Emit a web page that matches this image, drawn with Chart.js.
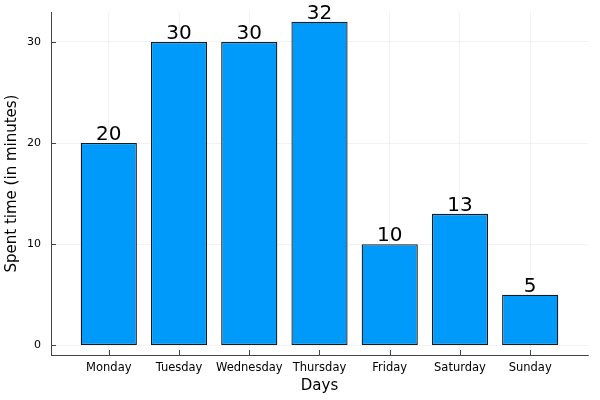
<!DOCTYPE html>
<html>
<head>
<meta charset="utf-8">
<style>
  body { margin: 0; background: #fff; }
</style>
<script src="https://cdn.jsdelivr.net/npm/chart.js@4"></script>
</head>
<body>
<canvas id="myChart" width="600" height="400"></canvas>

<script>
const days = ['Monday', 'Tuesday', 'Wednesday', 'Thursday', 'Friday', 'Saturday', 'Sunday'];
const minutes = [20, 30, 30, 32, 10, 13, 5];
const yTicks = [0, 10, 20, 30];

const FONT = "'DejaVu Sans', sans-serif";

// bar values written above each bar
const barLabels = {
  id: 'barLabels',
  afterDatasetsDraw(chart) {
    const ctx = chart.ctx;
    const meta = chart.getDatasetMeta(0);
    ctx.save();
    ctx.font = '20px ' + FONT;
    ctx.fillStyle = '#000';
    ctx.textAlign = 'center';
    ctx.textBaseline = 'alphabetic';
    meta.data.forEach((bar, i) => {
      ctx.fillText(String(minutes[i]), bar.x, bar.y - 3);
    });
    ctx.restore();
  }
};

// short tick marks pointing into the plot, like Plots.jl
const innerTicks = {
  id: 'innerTicks',
  beforeDatasetsDraw(chart) {
    const ctx = chart.ctx;
    const area = chart.chartArea;
    const x = chart.scales.x, y = chart.scales.y;
    ctx.save();
    ctx.strokeStyle = '#444';
    ctx.lineWidth = 1;
    ctx.beginPath();
    days.forEach((d, i) => {
      const px = Math.round(x.getPixelForValue(i)) + 0.5;
      ctx.moveTo(px, area.bottom);
      ctx.lineTo(px, area.bottom - 5);
    });
    yTicks.forEach(v => {
      const py = Math.round(y.getPixelForValue(v)) + 0.5;
      ctx.moveTo(area.left, py);
      ctx.lineTo(area.left + 5, py);
    });
    ctx.stroke();
    ctx.restore();
  }
};

const data = {
  datasets: [{
    data: minutes.map((v, i) => ({ x: i, y: v })),
    backgroundColor: '#009AFA',
    borderColor: '#1a1a1a',
    borderWidth: 1.3,
    borderSkipped: false,
    barPercentage: 0.8,
    categoryPercentage: 1.0
  }]
};

const config = {
  type: 'bar',
  data: data,
  options: {
    responsive: false,
    animation: false,
    devicePixelRatio: 1,
    layout: { padding: { left: 0, top: 12, right: 12, bottom: 0 } },
    plugins: {
      legend: { display: false },
      tooltip: { enabled: false }
    },
    scales: {
      x: {
        type: 'linear',
        offset: false,
        min: -0.823,
        max: 6.823,
        afterBuildTicks(scale) {
          scale.ticks = days.map((d, i) => ({ value: i }));
        },
        afterFit(scale) {
          scale.height = 45;
          scale.paddingLeft = 0;
          scale.paddingRight = 0;
        },
        ticks: {
          autoSkip: false,
          maxRotation: 0,
          padding: 6,
          color: '#000',
          font: { family: FONT, size: 11.5 },
          callback: (v) => days[v]
        },
        grid: {
          offset: false,
          drawTicks: false,
          color: 'rgba(0,0,0,0.1)',
          lineWidth: 0.5
        },
        border: { color: '#444', width: 1 },
        title: {
          display: true,
          text: 'Days',
          color: '#000',
          font: { family: FONT, size: 15 },
          padding: { top: 0, bottom: 5 }
        }
      },
      y: {
        min: -0.96,
        max: 32.96,
        afterBuildTicks(scale) {
          scale.ticks = yTicks.map(v => ({ value: v }));
        },
        afterFit(scale) {
          scale.width = 51;
          scale.paddingTop = 0;
          scale.paddingBottom = 0;
        },
        ticks: {
          padding: 10,
          color: '#000',
          font: { family: FONT, size: 11 }
        },
        grid: {
          drawTicks: false,
          color: 'rgba(0,0,0,0.1)',
          lineWidth: 0.5
        },
        border: { color: '#444', width: 1 },
        title: {
          display: true,
          text: 'Spent time (in minutes)',
          color: '#000',
          font: { family: FONT, size: 15 },
          padding: { top: 3, bottom: 0 }
        }
      }
    }
  },
  plugins: [barLabels, innerTicks]
};

var myChart = new Chart(
  document.getElementById('myChart'),
  config
);
</script>
</body>
</html>
